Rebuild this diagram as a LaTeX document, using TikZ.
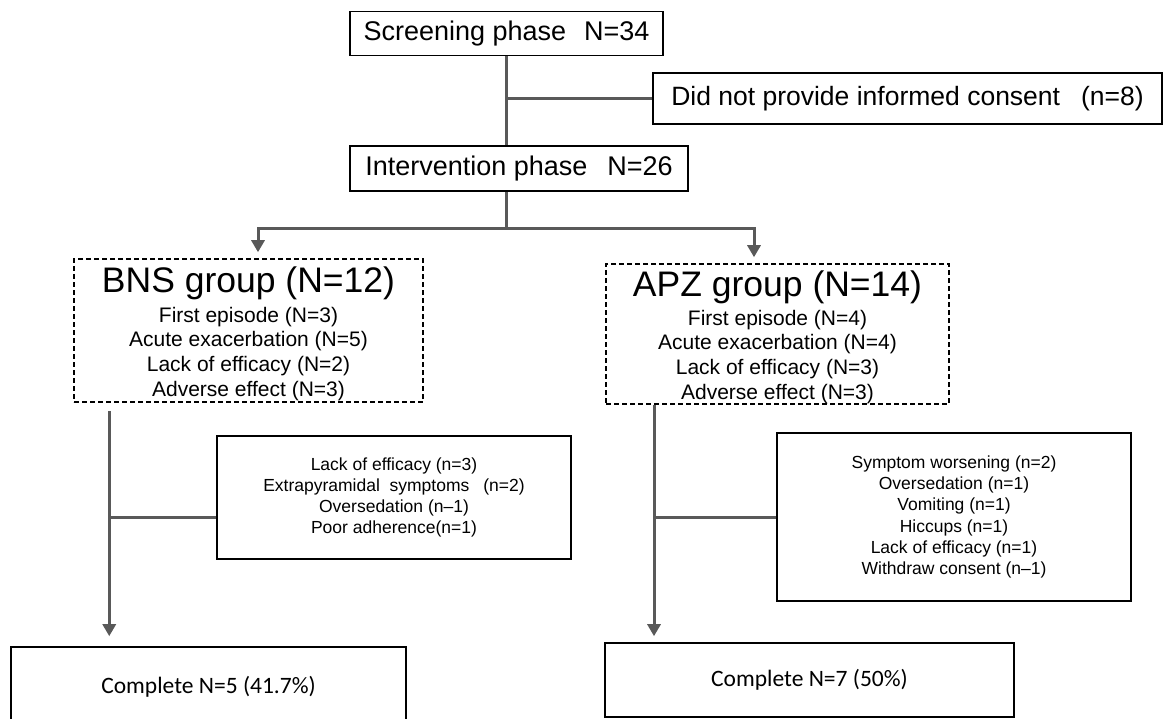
\documentclass[tikz,border=0pt]{standalone}
\usepackage{fontspec}
\setmainfont{Liberation Sans}
\newfontfamily\calibrifont{Carlito}
\usetikzlibrary{arrows.meta,positioning,calc}
\definecolor{flowgray}{HTML}{595959}

\begin{document}
\begin{tikzpicture}[x=1pt,y=-1pt,
  phase/.style={draw,line width=1.6pt,minimum height=44pt,inner sep=0pt,font=\fontsize{27}{32}\selectfont},
  group/.style={draw,dash pattern=on 5pt off 3pt,line width=1.5pt},
  grouptitle/.style={anchor=base,inner sep=0pt,font=\fontsize{35.5}{40}\selectfont},
  grouplist/.style={anchor=north,inner sep=0pt,align=center,font=\fontsize{21}{24.7}\selectfont},
  dropbox/.style={draw,line width=1.6pt,inner sep=0pt,align=center,font=\fontsize{17.5}{21.3}\selectfont},
  donebox/.style={draw,line width=1.6pt,inner sep=0pt,font=\calibrifont\fontsize{23.5}{28}\selectfont},
  conn/.style={flowgray,line width=3pt},
  arr/.style={conn,-{Triangle[length=12pt,width=13pt]}}
]
\useasboundingbox (0,0) rectangle (1166,719);
\clip (0,0) rectangle (1166,719);

% phases
\node[phase,minimum width=313pt] (screen) at (506.5,33.5) {Screening phase\hspace{18pt}N=34};
\node[phase,minimum width=509pt,minimum height=51pt,font=\fontsize{26.5}{32}\selectfont] (consent) at (907.5,98.5) {Did not provide informed consent\hspace{21pt}(n=8)};
\node[phase,minimum width=338pt,minimum height=45pt] (inter) at (519,168.5) {Intervention phase\hspace{20pt}N=26};

% groups
\node[group,minimum width=349pt,minimum height=143pt] (bns) at (248.5,330.5) {};
\node[grouptitle] (bnstitle) at ($(bns.north)+(0,34)$) {BNS group (N=12)};
\node[grouplist] (bnslist) at ($(bns.north)+(0,48.5)$) {First episode (N=3)\\Acute exacerbation (N=5)\\Lack of efficacy (N=2)\\Adverse effect (N=3)};
\node[group,minimum width=343pt,minimum height=140pt] (apz) at (777.5,334) {};
\node[grouptitle] (apztitle) at ($(apz.north)+(0,33)$) {APZ group (N=14)};
\node[grouplist] (apzlist) at ($(apz.north)+(0,46.5)$) {First episode (N=4)\\Acute exacerbation (N=4)\\Lack of efficacy (N=3)\\Adverse effect (N=3)};

% withdrawals
\node[dropbox,minimum width=354pt,minimum height=123pt] (bnsdrop) at (394,497.5) {Lack of efficacy (n=3)\\Extrapyramidal\ \ symptoms\hspace{14pt}(n=2)\\Oversedation (n–1)\\Poor adherence(n=1)};
\node[dropbox,minimum width=354pt,minimum height=168pt] (apzdrop) at (954,517) {Symptom worsening (n=2)\\Oversedation (n=1)\\Vomiting (n=1)\\Hiccups (n=1)\\Lack of efficacy (n=1)\\Withdraw consent (n–1)};

% completers
\node[donebox,minimum width=395pt,minimum height=80pt] (bnsdone) at (208.5,687) {Complete N=5 (41.7\%)};
\node[donebox,minimum width=409pt,minimum height=74pt] (apzdone) at (809.5,680) {Complete N=7 (50\%)};

% connectors
\draw[conn] (screen.south) -- (screen.south |- inter.north);
\coordinate (consentsplit) at (screen.south |- consent.west);
\draw[conn] (consentsplit) -- (consent.west);
\coordinate (groupsplit) at ($(screen.south |- inter.south)+(0,37)$);
\draw[conn] (screen.south |- inter.south) -- (groupsplit);
\draw[arr] (groupsplit) -| ($(bns.north)+(9.5,-6)$);
\draw[arr] (groupsplit) -| ($(apz.north)+(-23.5,-6)$);

\coordinate (bnsleg) at ($(bns.south west)+(36,8)$);
\draw[arr] (bnsleg) -- ($(bnsleg |- bnsdone.north)+(0,-10)$);
\coordinate (bnssplit) at (bnsleg |- 0,517);
\draw[conn] (bnssplit) -- (bnssplit -| bnsdrop.west);

\coordinate (apzleg) at (apz.south -| 654,0);
\draw[arr] (apzleg) -- ($(apzleg |- apzdone.north)+(0,-6)$);
\draw[conn] (apzleg |- apzdrop.west) -- (apzdrop.west);
\end{tikzpicture}
\end{document}
